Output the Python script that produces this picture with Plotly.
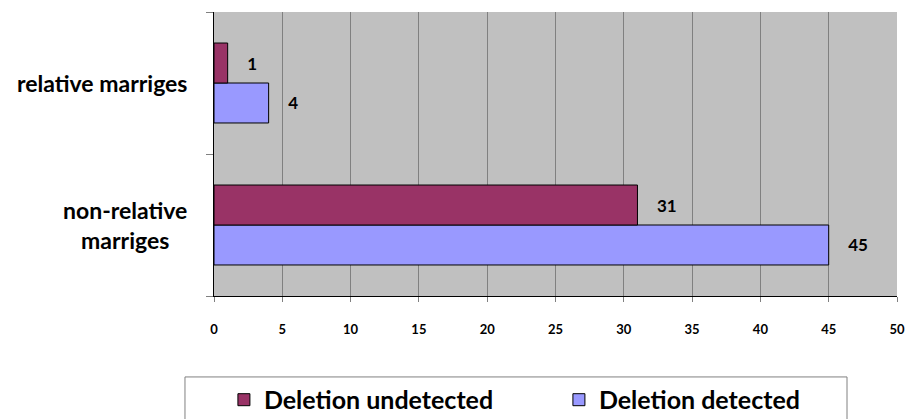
import plotly.graph_objects as go

# Marriage type categories (bottom to top on the axis)
categories = ["non-relative marriges", "relative marriges"]
category_labels = ["non-relative<br>marriges", "relative marriges"]

# Counts per series, aligned with categories
deletion_detected = [45, 4]
deletion_undetected = [31, 1]

x_ticks = list(range(0, 55, 5))

label_font = dict(family="Lato", size=17, color="black", weight="bold")
pad = "\u00a0" * 4

fig = go.Figure()
fig.add_trace(go.Bar(
    name="Deletion detected", y=categories, x=deletion_detected, orientation="h",
    marker=dict(color="#9999FF", line=dict(color="black", width=1)),
    text=[pad + str(v) for v in deletion_detected], textposition="outside",
    textfont=label_font, cliponaxis=False,
))
fig.add_trace(go.Bar(
    name="Deletion undetected", y=categories, x=deletion_undetected, orientation="h",
    marker=dict(color="#993366", line=dict(color="black", width=1)),
    text=[pad + str(v) for v in deletion_undetected], textposition="outside",
    textfont=label_font, cliponaxis=False,
))

# Category names, centred line by line, to the left of the axis
for cat, lab in zip(categories, category_labels):
    fig.add_annotation(
        x=0, xref="paper", xanchor="right", xshift=-25,
        y=cat, yref="y", yanchor="middle",
        text=lab, align="center", showarrow=False,
        font=dict(family="Lato", size=23, color="black", weight="bold"),
    )

# Frame around the legend
fig.add_shape(
    type="rect", xref="paper", yref="paper",
    x0=-0.0425, x1=0.9268, y0=-0.285, y1=-0.55,
    line=dict(color="#808080", width=1), fillcolor="white", layer="below",
)

fig.update_layout(
    width=906, height=419,
    margin=dict(l=214, r=9, t=12, b=123, autoexpand=False),
    paper_bgcolor="white", plot_bgcolor="#C0C0C0",
    barmode="group", bargap=0.437, bargroupgap=0,
    legend=dict(
        orientation="h", traceorder="reversed",
        x=0.505, xanchor="center", y=-0.285, yanchor="top",
        bgcolor="rgba(0,0,0,0)", borderwidth=0,
        font=dict(family="Lato", size=25, color="black", weight="bold"),
        entrywidth=290, entrywidthmode="pixels",
    ),
    showlegend=True,
)
fig.update_xaxes(
    range=[0, 50], tickvals=x_ticks, ticktext=[str(v) for v in x_ticks],
    showgrid=True, gridcolor="#808080", gridwidth=1, zeroline=False,
    showline=True, linecolor="black", linewidth=1,
    ticks="outside", ticklen=5, tickcolor="#808080",
    tickfont=dict(family="Lato", size=13, color="black", weight="bold"),
    ticklabelstandoff=16,
)
fig.update_yaxes(
    categoryorder="array", categoryarray=categories,
    showticklabels=False, showgrid=False, zeroline=False,
    showline=True, linecolor="black", linewidth=1,
    ticks="outside", ticklen=7, tickcolor="#808080", tickson="boundaries",
)

fig.write_html("out.html")
